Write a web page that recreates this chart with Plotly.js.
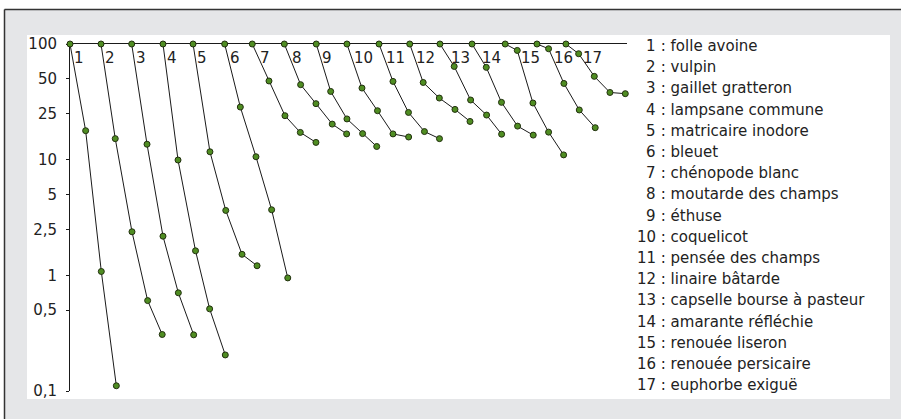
<!DOCTYPE html>
<html>
<head>
<meta charset="utf-8">
<script src="https://cdn.plot.ly/plotly-3.0.1.min.js"></script>
<style>
html,body{margin:0;padding:0;background:#ffffff;}
#chart{width:901px;height:419px;}
</style>
</head>
<body>
<div id="chart"></div>
<script>
// ---- data ----
const speciesNumbers = ['1','2','3','4','5','6','7','8','9','10','11','12','13','14','15','16','17'];
const speciesNames = ['folle avoine','vulpin','gaillet gratteron','lampsane commune','matricaire inodore','bleuet','chénopode blanc','moutarde des champs','éthuse','coquelicot','pensée des champs','linaire bâtarde','capselle bourse à pasteur','amarante réfléchie','renouée liseron','renouée persicaire','euphorbe exiguë'];

const yearPositions = [
  [0, 1.01, 2.02, 2.99],
  [2, 2.92, 4, 5.01, 5.95],
  [3.98, 4.97, 6, 6.99, 7.98],
  [6, 6.97, 8.1, 9.01, 10.02],
  [7.94, 9.03, 10.05, 11.1, 12.07],
  [9.98, 10.99, 12, 13.01, 14.05],
  [11.76, 12.84, 13.87, 14.86, 15.87],
  [13.83, 14.88, 15.87, 16.92, 17.85],
  [15.89, 16.82, 17.87, 18.88, 19.79],
  [17.87, 18.84, 19.84, 20.84, 21.85],
  [19.94, 20.84, 21.84, 22.87, 23.84],
  [21.92, 22.79, 23.83, 24.84, 25.81],
  [23.87, 24.79, 25.85, 26.88, 27.85],
  [25.94, 26.86, 27.84, 28.88, 29.89],
  [28.08, 28.86, 29.87, 30.88, 31.85],
  [30.13, 30.88, 31.87, 32.86, 33.89],
  [32, 32.82, 33.83, 34.84, 35.83]
];

const densities = [
  [100, 17.8, 1.08, 0.111],
  [100, 15.2, 2.38, 0.605, 0.308],
  [100, 13.6, 2.18, 0.706, 0.306],
  [100, 9.93, 1.63, 0.513, 0.205],
  [100, 11.7, 3.64, 1.52, 1.21],
  [100, 28.5, 10.6, 3.69, 0.95],
  [100, 47.9, 24, 17.2, 14.1],
  [100, 44.5, 30.5, 20.3, 16.7],
  [100, 38.9, 22.5, 16.8, 13.0],
  [100, 41.6, 26.5, 16.7, 15.7],
  [100, 47.5, 25.6, 17.5, 15.2],
  [100, 46.5, 34.1, 27.2, 21.4],
  [100, 64, 32.8, 24.3, 16.6],
  [100, 62.8, 31.3, 19.5, 16.3],
  [100, 88, 30.9, 17.3, 11.0],
  [100, 91, 45.6, 26.9, 18.9],
  [100, 82.4, 52.5, 38.1, 37.2]
];

const yTickValues = [100, 50, 25, 10, 5, 2.5, 1, 0.5, 0.1];
const yTickLabels = ['100', '50', '25', '10', '5', '2,5', '1', '0,5', '0,1'];

// ---- layout geometry ----
const W = 901, H = 419;
const M = {l: 70, r: 274, t: 44, b: 28};
const plotW = W - M.l - M.r, plotH = H - M.t - M.b;
const xRange = [0, 35.94];
const yRange = [-1, 2];
const px2paperX = px => (px - M.l) / plotW;
const py2paperY = py => (H - M.b - py) / plotH;
const decadePx = plotH / (yRange[1] - yRange[0]);

const font = 'DejaVu Sans, Arial, sans-serif';
const txt = '#222222';

const traces = yearPositions.map((xs, i) => ({
  type: 'scatter', mode: 'lines+markers',
  x: xs, y: densities[i],
  line: {color: '#1a1a1a', width: 1},
  marker: {size: 6, color: '#4f8d22', line: {color: '#22300f', width: 1}},
  cliponaxis: false, showlegend: false, hoverinfo: 'skip'
}));

// series number labels, placed just right of where each curve crosses the label height
const labelDrop = 13.5; // px below the 100 line
const annotations = [];
yearPositions.forEach((xs, i) => {
  const ys = densities[i].map(v => Math.log10(v));
  const target = 2 - labelDrop / decadePx;
  let cx = xs[0];
  for (let k = 0; k < xs.length - 1; k++) {
    if (ys[k] >= target && ys[k + 1] <= target) {
      const f = (ys[k] - target) / (ys[k] - ys[k + 1]);
      cx = xs[k] + f * (xs[k + 1] - xs[k]);
      break;
    }
  }
  annotations.push({
    xref: 'x', yref: 'y', x: cx, y: 2, xanchor: 'left', yanchor: 'middle',
    xshift: 2, yshift: -labelDrop, showarrow: false,
    text: speciesNumbers[i], font: {family: font, size: 15, color: txt},
    borderpad: 0, borderwidth: 0
  });
});

// species legend on the right
const legendRight = 656, legendTop = 46, legendStep = 21.2;
speciesNames.forEach((name, i) => {
  const py = legendTop + i * legendStep;
  annotations.push({
    xref: 'paper', yref: 'paper', x: px2paperX(legendRight), y: py2paperY(py),
    xanchor: 'right', yanchor: 'middle', showarrow: false,
    text: speciesNumbers[i], font: {family: font, size: 15, color: txt},
    borderpad: 0, borderwidth: 0
  });
  annotations.push({
    xref: 'paper', yref: 'paper', x: px2paperX(legendRight), y: py2paperY(py),
    xanchor: 'left', yanchor: 'middle', showarrow: false,
    text: '\u00a0: ' + name, font: {family: font, size: 15, color: txt},
    borderpad: 0, borderwidth: 0
  });
});

const shapes = [
  // white panel
  {type: 'rect', xref: 'paper', yref: 'paper', layer: 'below',
   x0: px2paperX(27), x1: px2paperX(890), y0: py2paperY(399), y1: py2paperY(35),
   fillcolor: '#ffffff', line: {width: 0}},
  // white margin outside frame (left and top)
  {type: 'rect', xref: 'paper', yref: 'paper', layer: 'below',
   x0: px2paperX(0), x1: px2paperX(4), y0: py2paperY(H), y1: py2paperY(0),
   fillcolor: '#ffffff', line: {width: 0}},
  {type: 'rect', xref: 'paper', yref: 'paper', layer: 'below',
   x0: px2paperX(0), x1: px2paperX(W), y0: py2paperY(9), y1: py2paperY(0),
   fillcolor: '#ffffff', line: {width: 0}},
  // frame lines
  {type: 'line', xref: 'paper', yref: 'paper', layer: 'below',
   x0: px2paperX(4.5), x1: px2paperX(4.5), y0: py2paperY(H), y1: py2paperY(9.5),
   line: {color: '#333333', width: 1.5}},
  {type: 'line', xref: 'paper', yref: 'paper', layer: 'below',
   x0: px2paperX(4.5), x1: px2paperX(W), y0: py2paperY(9.5), y1: py2paperY(9.5),
   line: {color: '#333333', width: 1.5}}
];

const layout = {
  width: W, height: H,
  margin: M,
  paper_bgcolor: '#e5e6e8',
  plot_bgcolor: 'rgba(0,0,0,0)',
  showlegend: false,
  xaxis: {
    range: xRange, side: 'top', showline: true, linecolor: '#1a1a1a', linewidth: 1,
    showticklabels: false, ticks: '', showgrid: false, zeroline: false,
    layer: 'below traces', fixedrange: true
  },
  yaxis: {
    type: 'log', range: yRange, showline: true, linecolor: '#1a1a1a', linewidth: 1,
    ticks: 'outside', ticklen: 3, tickwidth: 1, tickcolor: '#1a1a1a',
    tickvals: yTickValues, ticktext: yTickLabels, ticklabelstandoff: 6,
    tickfont: {family: font, size: 15, color: txt},
    showgrid: false, zeroline: false, layer: 'below traces', fixedrange: true
  },
  shapes: shapes,
  annotations: annotations
};

Plotly.newPlot('chart', traces, layout, {displayModeBar: false, staticPlot: true});
</script>
</body>
</html>
